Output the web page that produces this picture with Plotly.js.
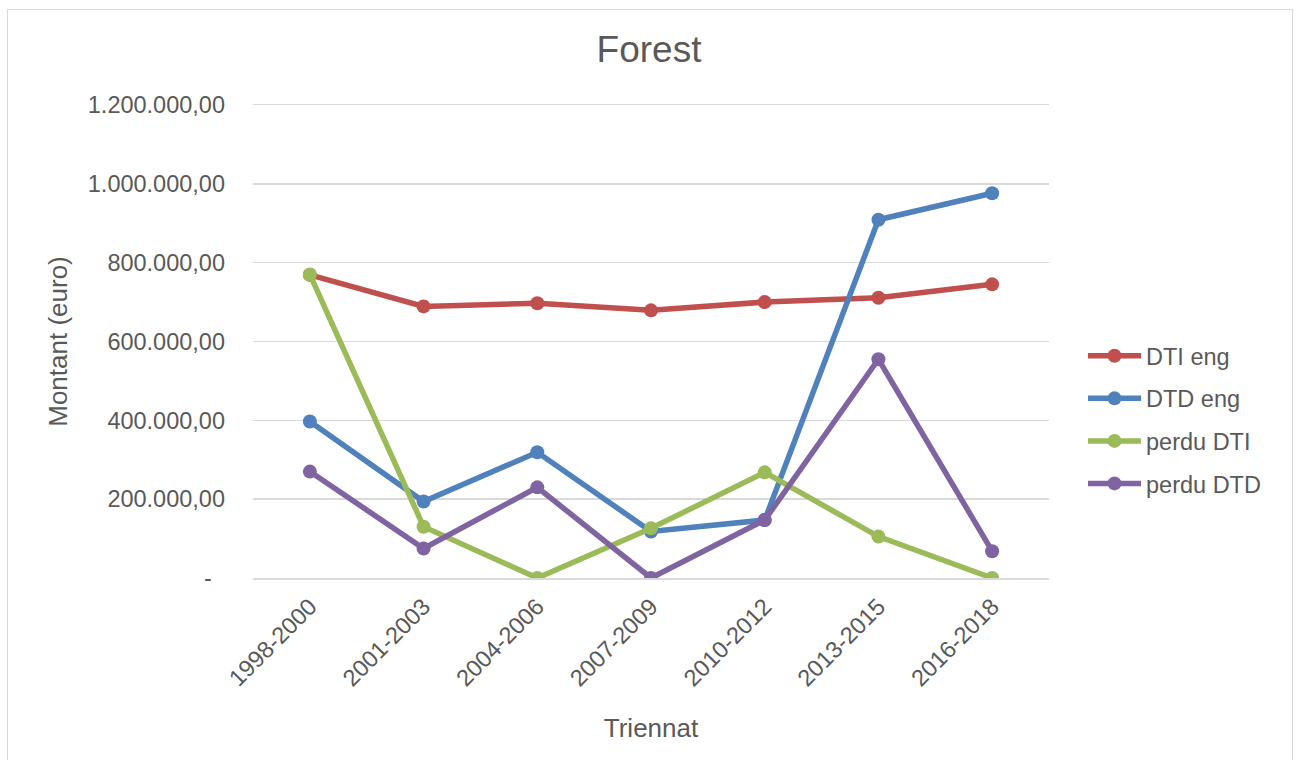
<!DOCTYPE html>
<html>
<head>
<meta charset="utf-8">
<script src="https://cdn.plot.ly/plotly-3.0.1.min.js"></script>
<style>
html,body{margin:0;padding:0;background:#fff;}
#wrap{position:relative;width:1298px;height:760px;overflow:hidden;}
#chart{width:1298px;height:760px;}
#frame{position:absolute;left:7px;top:9px;width:1284px;height:800px;border:1.5px solid #d9d9d9;pointer-events:none;}
</style>
</head>
<body>
<div id="wrap"><div id="chart"></div><div id="frame"></div></div>
<script>
const categories = ["1998-2000","2001-2003","2004-2006","2007-2009","2010-2012","2013-2015","2016-2018"];
const dtiEng   = [769000, 689000, 697000, 679000, 700000, 711000, 745000];
const dtdEng   = [397000, 194000, 319000, 118000, 147000, 909000, 976000];
const perduDTI = [770000, 130000, 0, 126000, 268000, 105000, 0];
const perduDTD = [270000, 75000, 230000, 0, 147000, 555000, 68000];
const seriesNames = ["DTI eng","DTD eng","perdu DTI","perdu DTD"];
const seriesColors = ["#C0504D","#4F81BD","#9BBB59","#8064A2"];
const yTickVals = [0, 200000, 400000, 600000, 800000, 1000000, 1200000];
const yTickText = ["-\u00a0\u00a0", "200.000,00", "400.000,00", "600.000,00", "800.000,00", "1.000.000,00", "1.200.000,00"];

const allSeries = [dtiEng, dtdEng, perduDTI, perduDTD];
const font = '"Liberation Sans", Arial, sans-serif';
const txt = '#595959';

const traces = allSeries.map((vals, i) => ({
  x: categories,
  y: vals,
  name: seriesNames[i],
  legendgroup: 'g' + i,
  type: 'scatter',
  mode: 'lines+markers',
  line: {color: seriesColors[i], width: 5.5},
  marker: {color: seriesColors[i], size: 14}
}));

const layout = {
  width: 1298, height: 760,
  margin: {l: 253, r: 249, t: 105, b: 182},
  paper_bgcolor: '#ffffff', plot_bgcolor: '#ffffff',
  font: {family: font, color: txt, size: 23.5},
  title: {text: 'Forest', font: {family: font, size: 37, color: txt}, x: 0.5, xanchor: 'center', xref: 'container', y: 0.935, yanchor: 'middle', yref: 'container'},
  xaxis: {
    type: 'category',
    range: [-0.5, 6.5],
    tickangle: -45,
    ticks: '',
    showgrid: false,
    zeroline: false,
    showline: true,
    mirror: true,
    linecolor: '#d9d9d9',
    linewidth: 1.5,
    ticklabelstandoff: 4,
    tickfont: {family: font, size: 23.5, color: txt},
    title: {text: 'Triennat', font: {family: font, size: 26, color: txt}, standoff: 28}
  },
  yaxis: {
    range: [0, 1200000],
    tickvals: yTickVals,
    ticktext: yTickText,
    ticks: '',
    showline: false,
    zeroline: false,
    showgrid: true,
    gridcolor: '#d9d9d9',
    gridwidth: 1.5,
    ticklabelstandoff: 27,
    tickfont: {family: font, size: 23.5, color: txt},
    title: {text: 'Montant (euro)', font: {family: font, size: 26, color: txt}, standoff: 12}
  },
  showlegend: true,
  legend: {
    xref: 'container', yref: 'container',
    x: 1083/1298, xanchor: 'left',
    y: 1 - 420/760, yanchor: 'middle',
    font: {family: font, size: 23.5, color: txt},
    tracegroupgap: 9,
    itemwidth: 53,
    bgcolor: 'rgba(0,0,0,0)'
  }
};

Plotly.newPlot('chart', traces, layout, {displayModeBar: false, staticPlot: true});
</script>
</body>
</html>
